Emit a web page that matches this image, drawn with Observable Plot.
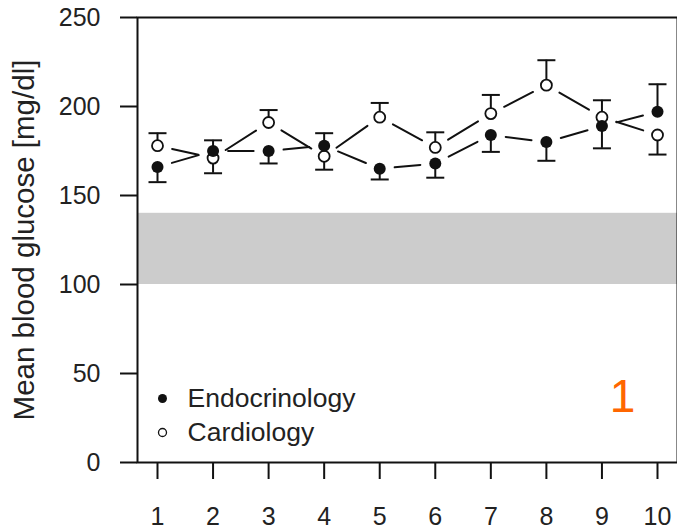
<!DOCTYPE html>
<html>
<head>
<meta charset="utf-8">
<script src="https://cdn.jsdelivr.net/npm/d3@7"></script>
<script src="https://cdn.jsdelivr.net/npm/@observablehq/plot@0.6"></script>
<style>
  html, body { margin: 0; padding: 0; background: #fff; }
  #chart { width: 677px; height: 529px; }
</style>
</head>
<body>
<div id="chart"></div>
<script>
// ---- data ----
const visits = [1, 2, 3, 4, 5, 6, 7, 8, 9, 10];
const groups = ["Endocrinology", "Cardiology"];
const endoMean   = [166, 175, 175, 178, 165, 168, 184, 180, 189, 197];
const endoSE     = [8.5, 6, 7, 7, 6, 8, 9.5, 10.5, 12.5, 15.5];
const cardioMean = [178, 171, 191, 172, 194, 177, 196, 212, 194, 184];
const cardioSE   = [7, 8.5, 7, 7.5, 8, 8.5, 10.5, 14, 9.5, 11];
const yTicks = [0, 50, 100, 150, 200, 250];
const targetBand = [100, 140];
const yTitle = "Mean blood glucose [mg/dl]";
const panelLabel = "1";

// ---- derived tables ----
const rows = [];
visits.forEach((v, i) => {
  const up = endoMean[i] >= cardioMean[i];
  rows.push({visit: v, group: groups[0], mean: endoMean[i], se: endoSE[i], dir: up ? 1 : -1});
  rows.push({visit: v, group: groups[1], mean: cardioMean[i], se: cardioSE[i], dir: up ? -1 : 1});
});
const segs = [];
for (const g of groups) {
  const s = rows.filter(d => d.group === g);
  for (let i = 0; i < s.length - 1; i++) segs.push({g, x1: s[i].visit, y1: s[i].mean, x2: s[i + 1].visit, y2: s[i + 1].mean});
}
const capSymbol = {
  draw(ctx, size) {
    const w = Math.sqrt(size / Math.PI);
    ctx.moveTo(-w, 0);
    ctx.lineTo(w, 0);
  }
};
const ink = "#111";
const font = "'Liberation Sans', Arial, Helvetica, sans-serif";

const chart = Plot.plot({
  width: 677,
  height: 529,
  marginLeft: 137,
  marginRight: 0,
  marginTop: 17,
  marginBottom: 67,
  style: {fontFamily: font, fontSize: "25px", color: "#222", background: "#fff"},
  x: {domain: [0.64, 10.36]},
  y: {domain: [0, 250]},
  marks: [
    Plot.rect([targetBand], {y1: d => d[0], y2: d => d[1], fill: "#cccccc"}),
    Plot.arrow(segs, {x1: "x1", y1: "y1", x2: "x2", y2: "y2", inset: 15, headLength: 0, stroke: ink, strokeWidth: 2}),
    Plot.ruleX(rows, {x: "visit", y1: "mean", y2: d => d.mean + d.dir * d.se, stroke: ink, strokeWidth: 2}),
    Plot.dot(rows, {x: "visit", y: d => d.mean + d.dir * d.se, symbol: capSymbol, r: 9, fill: "none", stroke: ink, strokeWidth: 2}),
    Plot.dot(rows.filter(d => d.group === groups[1]), {x: "visit", y: "mean", r: 5.5, fill: "#fff", stroke: ink, strokeWidth: 1.8}),
    Plot.dot(rows.filter(d => d.group === groups[0]), {x: "visit", y: "mean", r: 6, fill: ink, stroke: "none"}),
    // legend
    Plot.dot([groups[0]], {frameAnchor: "bottom-left", dx: 25, dy: -64, r: 4.5, fill: ink}),
    Plot.dot([groups[1]], {frameAnchor: "bottom-left", dx: 25, dy: -30, r: 4, fill: "#fff", stroke: ink, strokeWidth: 1.3}),
    Plot.text([groups[0]], {text: d => d, frameAnchor: "bottom-left", dx: 50, dy: -64, textAnchor: "start", lineAnchor: "middle", fontSize: 26.5, fill: "#222"}),
    Plot.text([groups[1]], {text: d => d, frameAnchor: "bottom-left", dx: 50, dy: -30, textAnchor: "start", lineAnchor: "middle", fontSize: 26.5, fill: "#222"}),
    // panel number
    Plot.text([panelLabel], {text: d => d, frameAnchor: "bottom-right", dx: -55, dy: -65, textAnchor: "middle", lineAnchor: "middle", fontSize: 46, fill: "#ff6600"}),
    // y title
    Plot.text([yTitle], {text: d => d, frameAnchor: "left", dx: -113, dy: 0, rotate: -90, textAnchor: "middle", lineAnchor: "middle", fontSize: 29.5, fill: "#222"}),
    Plot.frame({stroke: ink, strokeWidth: 2}),
    Plot.axisY({ticks: yTicks, tickSize: 17, tickPadding: 20, label: null, fontSize: 25, strokeWidth: 2, stroke: ink}),
    Plot.axisX({ticks: visits, tickSize: 17, tickPadding: 28, label: null, fontSize: 25, strokeWidth: 2, stroke: ink, tickFormat: d => String(d)})
  ]
});
document.getElementById("chart").appendChild(chart);
</script>
</body>
</html>
